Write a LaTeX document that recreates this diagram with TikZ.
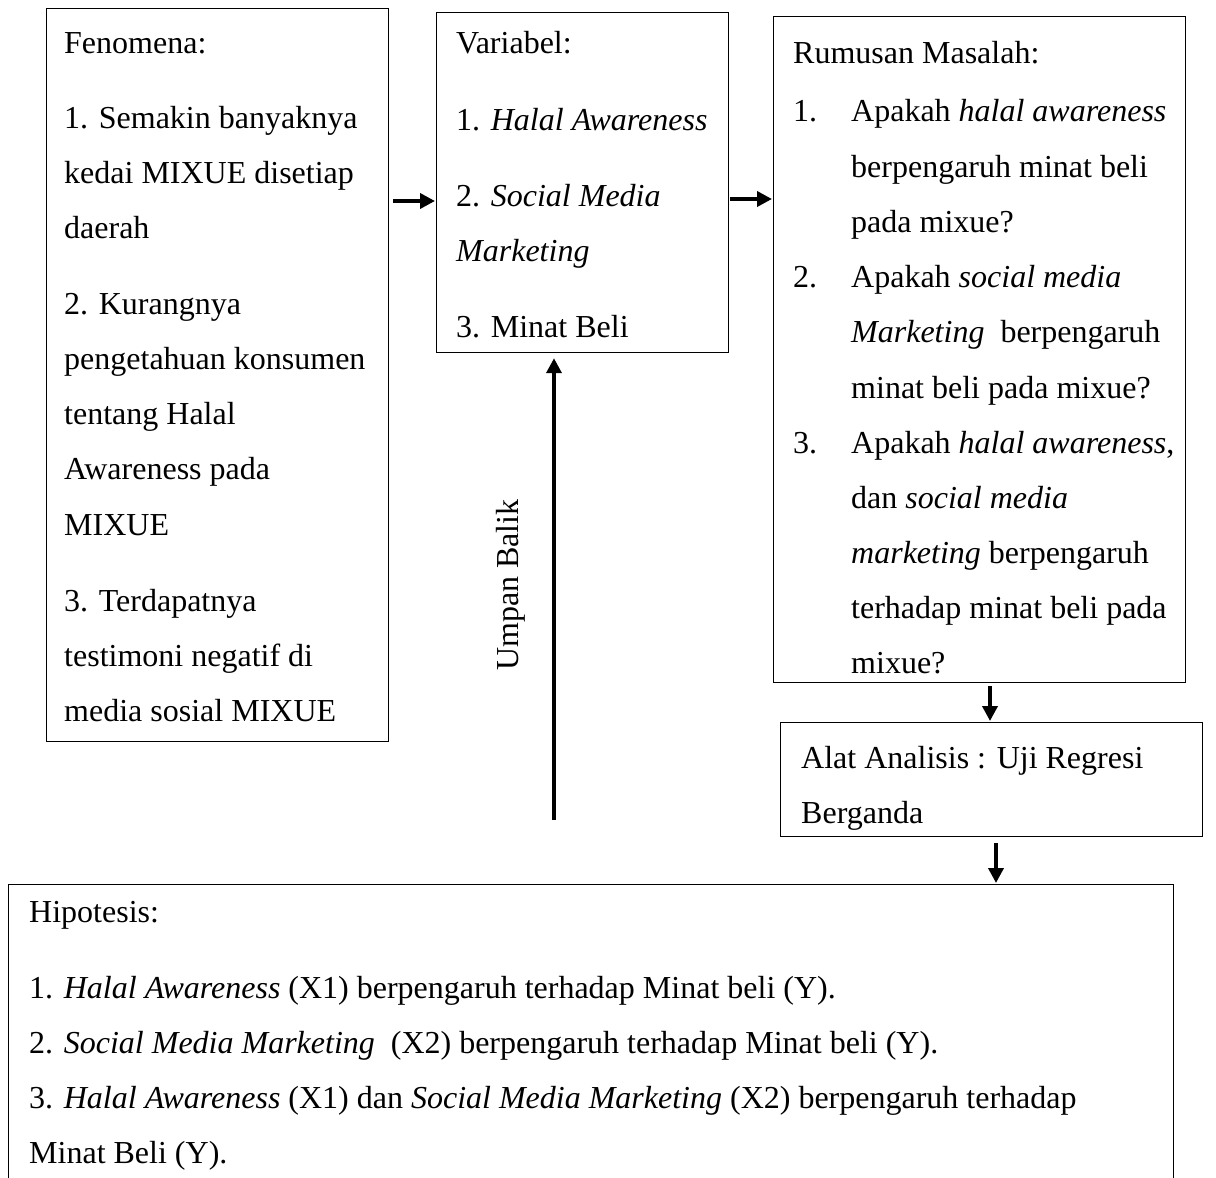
\documentclass[tikz,border=0pt]{standalone}
\usepackage{fontspec}
\setmainfont{Liberation Serif}
\usetikzlibrary{arrows.meta}
\begin{document}
\begin{tikzpicture}[x=1pt,y=-1pt,
 box/.style={draw, line width=1.2pt, rectangle, inner sep=0, anchor=north west},
 txt/.style={anchor=base west, inner sep=0, font=\fontsize{32}{40}\selectfont},
 arr/.style={line width=3.6pt, -{Triangle[length=15pt,width=15pt]}}]
\clip (0,0) rectangle (1216,1178);
\fill[white] (0,0) rectangle (1216,1178);

% boxes
\node[box, minimum width=342pt, minimum height=733pt] (fen) at (46,8) {};
\node[box, minimum width=292pt, minimum height=340pt] (var) at (436,12) {};
\node[box, minimum width=412pt, minimum height=666pt] (rum) at (773,16) {};
\node[box, minimum width=422pt, minimum height=114pt] (alat) at (780,722) {};
\node[box, minimum width=1165pt, minimum height=400pt] (hip) at (8,884) {};

% Fenomena
\node[txt] (f0) at (64,53) {Fenomena:};
\node[txt] (f1) at (64,128) {1. Semakin banyaknya};
\node[txt] (f2) at (64,183) {kedai MIXUE disetiap};
\node[txt] (f3) at (64,238) {daerah};
\node[txt] (f4) at (64,314) {2. Kurangnya};
\node[txt] (f5) at (64,369) {pengetahuan konsumen};
\node[txt] (f6) at (64,424) {tentang Halal};
\node[txt] (f7) at (64,479) {Awareness pada};
\node[txt] (f8) at (64,535) {MIXUE};
\node[txt] (f9) at (64,611) {3. Terdapatnya};
\node[txt] (f10) at (64,666) {testimoni negatif di};
\node[txt] (f11) at (64,721) {media sosial MIXUE};

% Variabel
\node[txt] (v0) at (456,53) {Variabel:};
\node[txt] (v1) at (456,130) {1. \textit{Halal Awareness}};
\node[txt] (v2) at (456,206) {2. \textit{Social Media}};
\node[txt] (v3) at (456,261) {\textit{Marketing}};
\node[txt] (v4) at (456,337) {3. Minat Beli};

% Rumusan Masalah
\node[txt] (r0) at (793,63) {Rumusan Masalah:};
\node[txt] (r1n) at (793,121) {1.};
\node[txt] (r1) at (851,121) {Apakah \textit{halal awareness}};
\node[txt] (r2) at (851,177) {berpengaruh minat beli};
\node[txt] (r3) at (851,232) {pada mixue?};
\node[txt] (r4n) at (793,287) {2.};
\node[txt] (r4) at (851,287) {Apakah \textit{social media}};
\node[txt] (r5) at (851,342) {\textit{Marketing}\ \ berpengaruh};
\node[txt] (r6) at (851,398) {minat beli pada mixue?};
\node[txt] (r7n) at (793,453) {3.};
\node[txt] (r7) at (851,453) {Apakah \textit{halal awareness},};
\node[txt] (r8) at (851,508) {dan \textit{social media}};
\node[txt] (r9) at (851,563) {\textit{marketing} berpengaruh};
\node[txt] (r10) at (851,618) {terhadap minat beli pada};
\node[txt] (r11) at (851,673) {mixue?};

% Alat Analisis
\node[txt] (a0) at (801,768) {Alat Analisis : Uji Regresi};
\node[txt] (a1) at (801,823) {Berganda};

% Hipotesis
\node[txt] (h0) at (29,922) {Hipotesis:};
\node[txt] (h1) at (29,998) {1. \textit{Halal Awareness} (X1) berpengaruh terhadap Minat beli (Y).};
\node[txt] (h2) at (29,1053) {2. \textit{Social Media Marketing}\ \ (X2) berpengaruh terhadap Minat beli (Y).};
\node[txt] (h3) at (29,1108) {3. \textit{Halal Awareness} (X1) dan \textit{Social Media Marketing} (X2) berpengaruh terhadap};
\node[txt] (h4) at (29,1163) {Minat Beli (Y).};

% Umpan Balik
\node[rotate=90, inner sep=0, font=\fontsize{32}{40}\selectfont] (ub) at (511,585) {Umpan Balik};

% connectors
\coordinate (ya) at (0,201);
\coordinate (yb) at (0,199);
\coordinate (xc) at (990,0);
\coordinate (xd) at (996,0);
\coordinate (fb) at (554,820);
\draw[arr, shorten <=4pt, shorten >=1pt] (fen.east |- ya) -- (var.west |- ya);
\draw[arr, shorten <=1pt, shorten >=1pt] (var.east |- yb) -- (rum.west |- yb);
\draw[arr, shorten <=3pt, shorten >=1pt] (xc |- rum.south) -- (xc |- alat.north);
\draw[arr, shorten <=6pt, shorten >=1pt] (xd |- alat.south) -- (xd |- hip.north);
\draw[arr, shorten >=5pt] (fb) -- (fb |- var.south);
\end{tikzpicture}
\end{document}
